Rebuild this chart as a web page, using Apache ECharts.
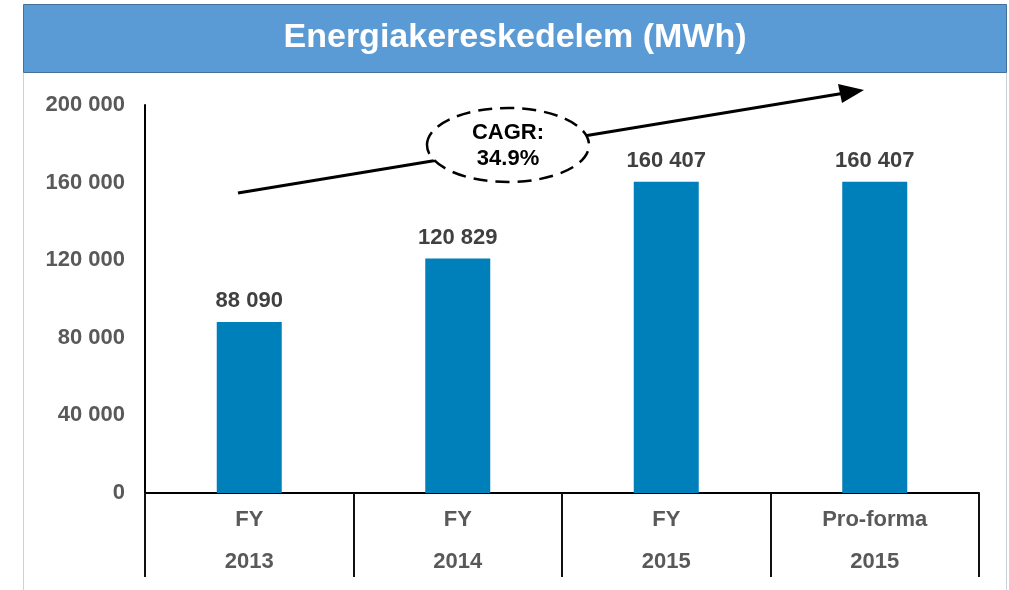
<!DOCTYPE html>
<html>
<head>
<meta charset="utf-8">
<script src="https://cdn.jsdelivr.net/npm/echarts@6/dist/echarts.min.js"></script>
<style>
  html, body { margin: 0; padding: 0; background: #fff; }
  #chart { width: 1009px; height: 590px; }
</style>
</head>
<body>
<div id="chart"></div>
<script>
const categories = ['FY\n2013', 'FY\n2014', 'FY\n2015', 'Pro-forma\n2015'];
const values = [88090, 120829, 160407, 160407];
const yTicks = [0, 40000, 80000, 120000, 160000, 200000];
const titleText = 'Energiakereskedelem (MWh)';
const cagrText = 'CAGR:\n34.9%';

const font = '"Liberation Sans", Arial, sans-serif';
const fmt = v => String(v).replace(/\B(?=(\d{3})+(?!\d))/g, ' ');

const chart = echarts.init(document.getElementById('chart'));

const option = {
  animation: false,
  grid: { left: 145, right: 30, top: 105, bottom: 97 },
  xAxis: {
    type: 'category',
    data: categories,
    axisLine: { lineStyle: { color: '#000', width: 2 } },
    axisTick: { show: true, length: 84, lineStyle: { color: '#111', width: 2 } },
    axisLabel: {
      margin: 6,
      lineHeight: 42,
      color: '#595959',
      fontSize: 22,
      fontWeight: 'bold',
      fontFamily: font
    }
  },
  yAxis: {
    type: 'value',
    min: yTicks[0],
    max: yTicks[yTicks.length - 1],
    interval: yTicks[1] - yTicks[0],
    axisLine: { show: true, lineStyle: { color: '#000', width: 2 } },
    axisTick: { show: false },
    splitLine: { show: false },
    axisLabel: {
      margin: 20,
      color: '#595959',
      fontSize: 22,
      fontWeight: 'bold',
      fontFamily: font,
      formatter: fmt
    }
  },
  series: [{
    type: 'bar',
    data: values,
    barWidth: 65,
    itemStyle: { color: '#0080BA' },
    label: {
      show: true,
      position: 'top',
      distance: 10,
      color: '#404040',
      fontSize: 22,
      fontWeight: 'bold',
      fontFamily: font,
      formatter: p => fmt(p.value)
    }
  }],
  graphic: [
    // side borders
    { type: 'rect', shape: { x: 23, y: 73, width: 1, height: 517 }, style: { fill: '#c9d3dc' }, silent: true },
    { type: 'rect', shape: { x: 1006, y: 73, width: 1, height: 517 }, style: { fill: '#c9d3dc' }, silent: true },
    // title bar
    {
      type: 'rect',
      shape: { x: 23.5, y: 4.5, width: 983, height: 68 },
      style: { fill: '#5A9BD5', stroke: '#41719C', lineWidth: 1 },
      silent: true
    },
    {
      type: 'text',
      x: 515, y: 38,
      style: {
        text: titleText,
        fill: '#fff',
        font: 'bold 34px ' + font,
        align: 'center',
        verticalAlign: 'middle'
      },
      silent: true
    },
    // CAGR arrow
    {
      type: 'line',
      shape: { x1: 238, y1: 193, x2: 845, y2: 93 },
      style: { stroke: '#000', lineWidth: 3 },
      silent: true
    },
    {
      type: 'polygon',
      shape: { points: [[864, 90], [838, 84], [842, 103]] },
      style: { fill: '#000' },
      silent: true
    },
    {
      type: 'ellipse',
      shape: { cx: 508, cy: 145, rx: 81, ry: 37 },
      style: { fill: '#fff', stroke: '#000', lineWidth: 2.5, lineDash: [14, 8] },
      silent: true
    },
    {
      type: 'text',
      x: 508, y: 146,
      style: {
        text: cagrText,
        fill: '#000',
        font: 'bold 22px ' + font,
        lineHeight: 26,
        align: 'center',
        verticalAlign: 'middle'
      },
      silent: true
    }
  ]
};

chart.setOption(option);
</script>
</body>
</html>
